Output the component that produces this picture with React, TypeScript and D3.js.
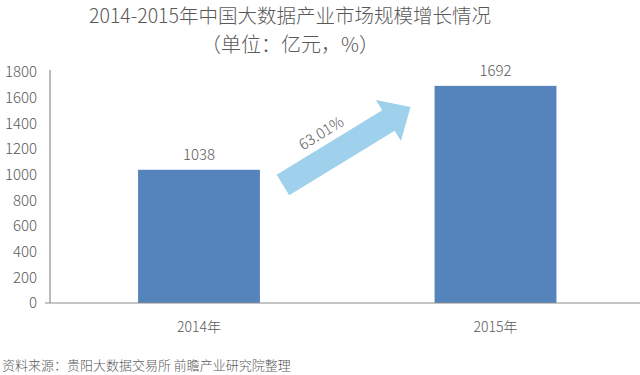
import React from "react";
import { scaleBand, scaleLinear } from "d3";

const years = ["2014年", "2015年"];
const values = [1038, 1692];
const yTicks = [0, 200, 400, 600, 800, 1000, 1200, 1400, 1600, 1800];
const growthLabel = "63.01%";
const title = "2014-2015年中国大数据产业市场规模增长情况";
const subtitle = "（单位：亿元，%）";
const source = "资料来源：贵阳大数据交易所 前瞻产业研究院整理";

const width = 640;
const height = 375;
const font = "'Noto Sans CJK SC', 'Noto Sans', sans-serif";

const textColor = "#595959";
const axisColor = "#8c8c8c";
const barColor = "#5584bc";
const arrowColor = "#9fd1ec";

const App = () => {
  const xScale = scaleBand()
    .domain(years)
    .range([50, 644.5])
    .paddingInner(0.589)
    .paddingOuter(0.297);
  const yScale = scaleLinear().domain([0, 1800]).range([303, 72]);

  // arrow from bar 1 toward bar 2
  const x0 = (xScale(years[0]) as number) + xScale.bandwidth() + 23;
  const y0 = yScale(920);
  const x1 = (xScale(years[1]) as number) - 24;
  const y1 = yScale(1528);
  const dx = x1 - x0;
  const dy = y1 - y0;
  const len = Math.sqrt(dx * dx + dy * dy);
  const angle = (Math.atan2(dy, dx) * 180) / Math.PI;
  const headLen = 26;
  const shaftHalf = 12;
  const headHalf = 24;
  const arrowPath =
    [
      [0, -shaftHalf],
      [len - headLen, -shaftHalf],
      [len - headLen, -headHalf],
      [len, 0],
      [len - headLen, headHalf],
      [len - headLen, shaftHalf],
      [0, shaftHalf],
    ]
      .map((p, i) => (i === 0 ? "M" : "L") + p[0] + "," + p[1])
      .join("") + "Z";

  return (
    <svg
      width={width}
      height={height}
      style={{ position: "absolute", left: 0, top: 0, background: "#fff" }}
      fontFamily={font}
    >
      <text x={290} y={23} textAnchor="middle" fontSize={19.5} fill={textColor} fontWeight={300}>
        {title}
      </text>
      <text x={290} y={52} textAnchor="middle" fontSize={20} fill={textColor} fontWeight={300}>
        {subtitle}
      </text>

      {yTicks.map((t) => (
        <text
          key={t}
          x={37}
          y={yScale(t)}
          dy="0.35em"
          textAnchor="end"
          fontSize={15}
          fill={textColor}
          fontWeight={300}
        >
          {t}
        </text>
      ))}

      {years.map((yr, i) => (
        <g key={yr}>
          <rect
            x={xScale(yr)}
            y={yScale(values[i])}
            width={xScale.bandwidth()}
            height={yScale(0) - yScale(values[i])}
            fill={barColor}
          />
          <text
            x={(xScale(yr) as number) + xScale.bandwidth() / 2}
            y={yScale(values[i]) - 10}
            textAnchor="middle"
            fontSize={15}
            fill={textColor}
            fontWeight={300}
          >
            {values[i]}
          </text>
          <text
            x={(xScale(yr) as number) + xScale.bandwidth() / 2}
            y={yScale(0) + 29}
            textAnchor="middle"
            fontSize={14}
            fill={textColor}
            fontWeight={300}
          >
            {yr}
          </text>
        </g>
      ))}

      <line x1={50} x2={50} y1={yScale(1800) - 2} y2={yScale(0)} stroke={axisColor} strokeWidth={1.2} />
      <line x1={45} x2={width} y1={yScale(0)} y2={yScale(0)} stroke={axisColor} strokeWidth={1.2} />

      <g transform={`translate(${x0},${y0}) rotate(${angle})`}>
        <path d={arrowPath} fill={arrowColor} />
        <text
          x={len * 0.4}
          y={-shaftHalf - 7}
          textAnchor="middle"
          fontSize={15}
          fill={textColor}
          fontWeight={300}
        >
          {growthLabel}
        </text>
      </g>

      <text x={2} y={370} fontSize={13} fill={textColor} fontWeight={300}>
        {source}
      </text>
    </svg>
  );
};

export default App;
